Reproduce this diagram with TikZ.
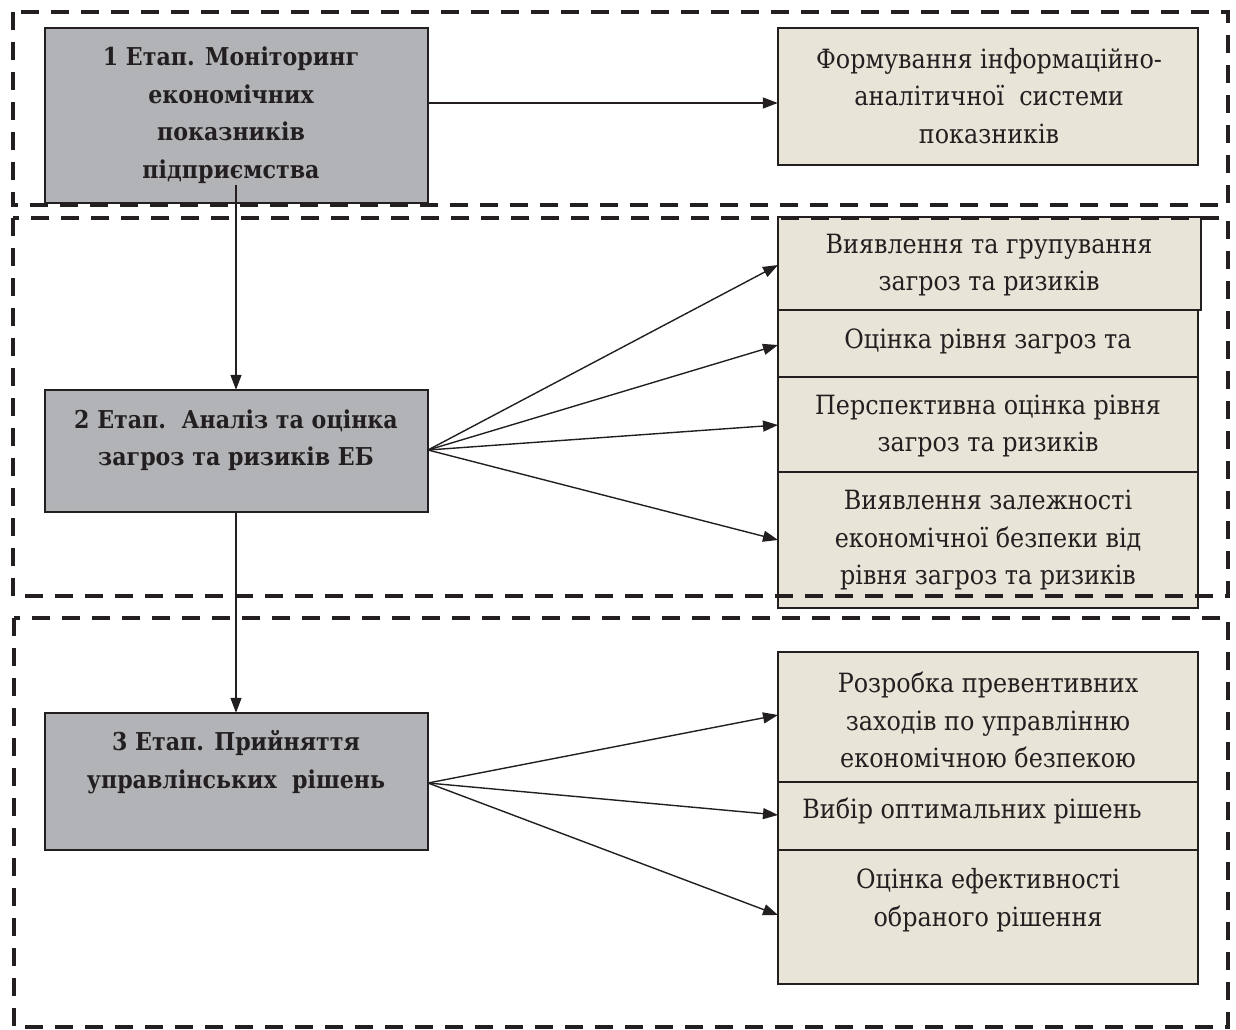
\documentclass[tikz,border=0pt]{standalone}
\usepackage{fontspec}
\setmainfont{DejaVu Serif Condensed}
\usetikzlibrary{arrows.meta}
\definecolor{stagegray}{HTML}{B2B3B7}
\definecolor{beige}{HTML}{E8E5D8}
\definecolor{ink}{HTML}{231F20}
\begin{document}
\begin{tikzpicture}[x=1pt,y=-1pt,
  txt/.style={font=\fontsize{26.5}{37.5}\selectfont, text=ink, align=center, inner sep=0pt},
  btxt/.style={txt, font=\bfseries\fontsize{24.6}{37.5}\selectfont},
  stage/.style={draw=ink, line width=1.8pt, fill=stagegray},
  item/.style={draw=ink, line width=1.8pt, fill=beige},
  frame/.style={draw=ink, line width=3.6pt, dash pattern=on 18pt off 12pt},
  arr/.style={draw=ink, line width=1.4pt, -{Triangle[length=15pt,width=11pt]}}]
\useasboundingbox (0,0) rectangle (1236,1030);
% stage boxes
\path[stage] (45,28) rectangle (428,203);
\node (s1) [minimum width=383pt, minimum height=175pt, inner sep=0pt] at (236.5,115.5) {};
\path[stage] (45,390) rectangle (428,512);
\node (s2) [minimum width=383pt, minimum height=122pt, inner sep=0pt] at (236.5,451) {};
\path[stage] (45,713) rectangle (428,850);
\node (s3) [minimum width=383pt, minimum height=137pt, inner sep=0pt] at (236.5,781.5) {};
% right boxes
\path[item] (778,28) rectangle (1198,165);
\node (r0) [minimum width=420pt, minimum height=137pt, inner sep=0pt] at (988,96.5) {};
\path[item] (778,217) rectangle (1201,310);
\node (r1) [minimum width=423pt, minimum height=93pt, inner sep=0pt] at (989.5,263.5) {};
\path[item] (778,310) rectangle (1198,377);
\node (r2) [minimum width=420pt, minimum height=67pt, inner sep=0pt] at (988,343.5) {};
\path[item] (778,377) rectangle (1198,472);
\node (r3) [minimum width=420pt, minimum height=95pt, inner sep=0pt] at (988,424.5) {};
\path[item] (778,472) rectangle (1198,608);
\node (r4) [minimum width=420pt, minimum height=136pt, inner sep=0pt] at (988,540) {};
\path[item] (778,652) rectangle (1198,782);
\node (t1) [minimum width=420pt, minimum height=130pt, inner sep=0pt] at (988,717) {};
\path[item] (778,782) rectangle (1198,850);
\node (t2) [minimum width=420pt, minimum height=68pt, inner sep=0pt] at (988,816) {};
\path[item] (778,850) rectangle (1198,984);
\node (t3) [minimum width=420pt, minimum height=134pt, inner sep=0pt] at (988,917) {};
% texts
\node[btxt] (s1t) at (231,115) {1 Етап. Моніторинг\\ економічних\\ показників\\ підприємства};
\node[btxt] (s2t) at (236,440) {2 Етап.\ \ Аналіз та оцінка\\ загроз та ризиків ЕБ};
\node[btxt] (s3t) at (236,762) {3 Етап. Прийняття\\ управлінських\ \ рішень};
\node[txt] (r0t) at (989,96) {Формування інформаційно-\\ аналітичної\ \ системи\\ показників};
\node[txt] (r1t) at (989,265) {Виявлення та групування\\ загроз та ризиків};
\node[txt] (r2t) at (988,341) {Оцінка рівня загроз та};
\node[txt] (r3t) at (988,426) {Перспективна оцінка рівня\\ загроз та ризиків};
\node[txt] (r4t) at (988,540) {Виявлення залежності\\ економічної безпеки від\\ рівня загроз та ризиків};
\node[txt] (t1t) at (988,720) {Розробка превентивних\\ заходів по управлінню\\ економічною безпекою};
\node[txt] (t2t) at (972,811) {Вибір оптимальних рішень};
\node[txt] (t3t) at (988,900) {Оцінка ефективності\\ обраного рішення};
% connector anchors
\coordinate (a1) at (428,103);
\coordinate (v1) at (236,185);
\coordinate (f2) at (428,450);
\coordinate (f3) at (428,783);
% connectors
\draw[arr] (a1) -- (r0.west |- a1);
\draw[arr] (v1) -- (s1.south -| v1) -- (s2.north -| v1);
\draw[arr] (s2.south -| v1) -- (s3.north -| v1);
\draw[arr] (f2) -- (778,265);
\draw[arr] (f2) -- (778,345);
\draw[arr] (f2) -- (778,425);
\draw[arr] (f2) -- (778,540);
\draw[arr] (f3) -- (778,715);
\draw[arr] (f3) -- (778,815);
\draw[arr] (f3) -- (778,915);
% dashed frames
\draw[frame] (13,12) rectangle (1228,205);
\draw[frame] (13,218) rectangle (1228,596);
\draw[frame] (14,618) rectangle (1228,1027);
\end{tikzpicture}
\end{document}
